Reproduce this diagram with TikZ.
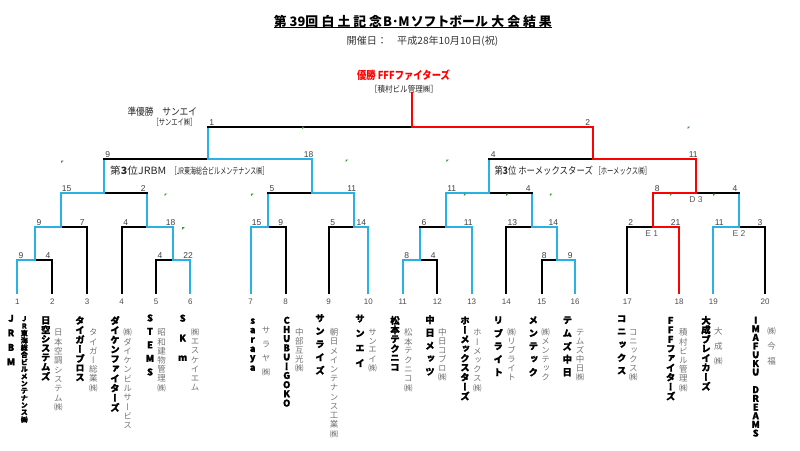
\documentclass[tikz,border=0pt]{standalone}
\usepackage{fontspec}
\usepackage{graphicx}
\setmainfont{Liberation Sans}
\newfontfamily\jp{Noto Sans CJK JP}
\newfontfamily\jv{Noto Sans CJK JP}[RawFeature=+vert]
\newfontfamily\jvh{Noto Sans CJK JP}[RawFeature=+vert, BoldFeatures={FakeBold=1.3}]
\definecolor{cyanline}{HTML}{29B1E6}
\definecolor{tick}{HTML}{2E9A2E}

\ExplSyntaxOn
\NewDocumentCommand \vstack { m m }
  {
    \vbox:n
      {
        \offinterlineskip
        \tl_map_inline:nn {#2}
          {
            \hbox_to_wd:nn { 1.3em }
              {
                \hfil
                \vbox_to_ht:nn {#1} { \vfil \hbox:n {##1} \vfil }
                \hfil
              }
          }
      }
  }
\ExplSyntaxOff

\newcommand\leafedge[3]{\draw[#3] (#1) |- (#2);}
\newcommand\upedge[4]{\draw[#3] (#1) -- (#1 |- #2); \draw[#4] (#1 |- #2) -- (#2);}

\begin{document}
\begin{tikzpicture}[x=1pt,y=-1pt,
  ln/.style={line width=2pt, line cap=rect},
  cy/.style={ln, draw=cyanline},
  rd/.style={ln, draw=red},
  bk/.style={ln, draw=black},
  scorelbl/.style={inner sep=0, text=black!75, font=\fontsize{8.5}{8.5}\selectfont},
  leafnum/.style={inner sep=0, text=black!70, font=\fontsize{8}{8}\selectfont},
  teamname/.style={anchor=north, inner sep=0, text=black, font=\jvh\bfseries\fontsize{9.3}{9.3}\selectfont},
  compname/.style={anchor=north, inner sep=0, text=black!55, font=\jv\fontsize{8.5}{8.5}\selectfont},
  hlabel/.style={inner sep=0, text=black!85},
  tickmark/.style={fill=tick}
]
\useasboundingbox (0,0) rectangle (800,450);

% ---------- titles ----------
\node[hlabel, text=black] (title) at (412.85,21.2) {\resizebox{278pt}{\height}{\jp\bfseries\fontsize{13}{13}\selectfont 第\hspace{3pt}39回\hspace{3.5pt}白\hspace{3pt}土\hspace{3pt}記\hspace{3pt}念\hspace{1pt}B･M\hspace{1pt}ソフトボール\hspace{3.5pt}大\hspace{3pt}会\hspace{3pt}結\hspace{3pt}果}};
\draw[line width=0.9pt] (274,27.8) -- (551.7,27.8);
\node[hlabel, text=black!80] (date) at (422.5,41.7) {\resizebox{151.6pt}{\height}{\jp\fontsize{10}{10}\selectfont 開催日：　平成28年10月10日(祝)}};

\node[hlabel, text=red] (champ) at (403.5,75.7) {\resizebox{93pt}{\height}{\jp\bfseries\fontsize{11}{11}\selectfont 優勝 FFFファイターズ}};
\node[hlabel] (champco) at (404,89.3) {\resizebox{68pt}{\height}{\jp\fontsize{8.5}{8.5}\selectfont［積村ビル管理㈱］}};
\node[hlabel, anchor=east] (runner) at (197.3,111.7) {\resizebox{69.6pt}{\height}{\jp\fontsize{10}{10}\selectfont 準優勝　サンエイ}};
\node[hlabel, anchor=east] (runnerco) at (196.7,122.3) {\resizebox{44pt}{\height}{\jp\fontsize{8.5}{8.5}\selectfont［サンエイ㈱］}};
\node[hlabel, anchor=west] (thirdA) at (110,170.7) {\resizebox{56pt}{\height}{\jp\fontsize{10}{10}\selectfont 第{\bfseries 3}位JRBM}};
\node[hlabel, anchor=west] (thirdAco) at (170.7,170.7) {\resizebox{97.6pt}{\height}{\jp\fontsize{9}{9}\selectfont［JR東海総合ビルメンテナンス㈱］}};
\node[hlabel, anchor=west] (thirdB) at (494.3,170.7) {\resizebox{98.4pt}{\height}{\jp\fontsize{10}{10}\selectfont 第{\bfseries 3}位 ホーメックスターズ}};
\node[hlabel, anchor=west] (thirdBco) at (594.3,170.7) {\resizebox{56.4pt}{\height}{\jp\fontsize{9}{9}\selectfont［ホーメックス㈱］}};

% ---------- coordinates ----------
\foreach \i/\x in {1/17.3,2/52.3,3/87,4/121.7,5/156,6/190.3,7/250.7,8/285.7,9/328.7,10/368.3,
                   11/402.7,12/437.3,13/471.7,14/506.3,15/541.7,16/575,17/627.3,18/679,19/713.3,20/765}{
  \coordinate (l\i) at (\x,293);
  \node[leafnum] (n\i) at (\x,301.7) {\i};
}
\coordinate (a1) at (35,260.3);
\coordinate (a2) at (60.7,226.7);
\coordinate (a3) at (173.2,260.3);
\coordinate (a4) at (147,226.7);
\coordinate (A)  at (104.3,193.3);
\coordinate (b1) at (268.3,226.7);
\coordinate (b2) at (354.3,226.7);
\coordinate (B)  at (311.7,193.3);
\coordinate (c1) at (420,260.3);
\coordinate (c2) at (445.7,226.7);
\coordinate (c3) at (557.3,260.3);
\coordinate (c4) at (532.3,226.7);
\coordinate (C)  at (489,193.3);
\coordinate (d1) at (653.3,226.7);
\coordinate (d2) at (739,226.7);
\coordinate (D)  at (696,193.3);
\coordinate (S1) at (207.7,159.3);
\coordinate (S2) at (592.7,159.3);
\coordinate (F)  at (411.7,126.7);
\coordinate (top) at (411.7,93);

% ---------- bracket lines ----------
% group A
\leafedge{l1}{a1}{cy} \leafedge{l2}{a1}{bk}
\upedge{a1}{a2}{cy}{cy} \leafedge{l3}{a2}{bk}
\leafedge{l5}{a3}{bk} \leafedge{l6}{a3}{cy}
\leafedge{l4}{a4}{bk} \upedge{a3}{a4}{cy}{cy}
\upedge{a2}{A}{cy}{cy} \upedge{a4}{A}{cy}{bk}
% group B
\leafedge{l7}{b1}{cy} \leafedge{l8}{b1}{bk}
\leafedge{l9}{b2}{bk} \leafedge{l10}{b2}{cy}
\upedge{b1}{B}{cy}{bk} \upedge{b2}{B}{cy}{cy}
% group C
\leafedge{l11}{c1}{cy} \leafedge{l12}{c1}{bk}
\upedge{c1}{c2}{cy}{bk} \leafedge{l13}{c2}{cy}
\leafedge{l15}{c3}{bk} \leafedge{l16}{c3}{cy}
\leafedge{l14}{c4}{bk} \upedge{c3}{c4}{cy}{cy}
\upedge{c2}{C}{cy}{cy} \upedge{c4}{C}{cy}{bk}
% group D
\leafedge{l17}{d1}{bk} \leafedge{l18}{d1}{rd}
\leafedge{l19}{d2}{cy} \leafedge{l20}{d2}{bk}
\upedge{d1}{D}{rd}{rd} \upedge{d2}{D}{cy}{bk}
% semis and final
\upedge{A}{S1}{cy}{bk} \upedge{B}{S1}{cy}{cy}
\upedge{C}{S2}{cy}{bk} \upedge{D}{S2}{rd}{rd}
\upedge{S1}{F}{cy}{bk} \upedge{S2}{F}{rd}{rd}
\draw[rd] (F) -- (top);

% ---------- scores ----------
\foreach \k/\x/\y/\t in {
  1/21/255.8/9, 2/48/255.8/4, 3/160/255.8/4, 4/188/255.8/22, 5/406.7/255.8/8, 6/433.3/255.8/4, 7/544.3/255.8/8, 8/570.3/255.8/9,
  9/39/222.2/9, 10/82.3/222.2/7, 11/125.7/222.2/4, 12/170.7/222.2/18, 13/256.7/222.2/15, 14/280.7/222.2/9, 15/332.7/222.2/5, 16/361.3/222.2/14,
  17/424/222.2/6, 18/468.3/222.2/11, 19/512.3/222.2/13, 20/553.3/222.2/14, 21/630.7/222.2/2, 22/675.7/222.2/21, 23/719.3/222.2/11, 24/760/222.2/3,
  25/66.7/188.8/15, 26/143.3/188.8/2, 27/272/188.8/5, 28/351.7/188.8/11, 29/451.7/188.8/11, 30/528.3/188.8/4, 31/657.3/188.8/8, 32/735/188.8/4,
  33/107.7/154.8/9, 34/308.7/154.8/18, 35/493.3/154.8/4, 36/693.3/154.8/11,
  37/211.7/122.2/1, 38/587.7/122.2/2}{
  \node[scorelbl] (sc\k) at (\x,\y) {\t};
}
\node[scorelbl, text=black!65] (lblD3) at (696,200) {D 3};
\node[scorelbl, text=black!65] (lblE1) at (651.7,233.3) {E 1};
\node[scorelbl, text=black!65] (lblE2) at (739,233.3) {E 2};

% ---------- green error ticks ----------
\foreach \x/\y in {62.3/161.7, 303.3/127.7, 346.7/160.7, 447.5/160.7, 688.7/127.7, 165.7/194.7, 183.3/228.3,
                   252.3/194.7, 465/194.7, 507.3/194.7, 551/194.7, 671/194.7, 714.3/194.7}{
  \fill[tickmark] (\x-1.2,\y-1.2) -- ++(2.6,0) -- ++(-2.6,2.6) -- cycle;
}

% ---------- team names (vertical) ----------
\node[teamname] (t1) at (11,311) {\vstack{14.5pt}{JRBM}};
\node[anchor=north, inner sep=0, font=\jvh\bfseries\fontsize{7}{7}\selectfont] (c1n) at (24.3,315) {\vstack{7.2pt}{JR東海総合ビルメンテナンス㈱}};
\node[teamname] (t2) at (45.7,315.5) {\vstack{9.3pt}{日空システムズ}};
\node[teamname] (t3) at (80,315.5) {\vstack{9.5pt}{タイガーブロス}};
\node[teamname] (t4) at (115,315.5) {\vstack{9.65pt}{ダイケンファイターズ}};
\node[teamname] (t5) at (150,311) {\vstack{13.5pt}{STEMS}};
\node[teamname] (t6) at (182.7,308) {\vstack{20pt}{SKm}};
\node[teamname] (t7) at (252.7,316.3) {\vstack{9.4pt}{saraya}};
\node[teamname] (t8) at (286.7,315.5) {\vstack{9.2pt}{CHUBUーGOKO}};
\node[teamname] (t9) at (320,311.5) {\vstack{13pt}{サンライズ}};
\node[teamname] (t10) at (360,311) {\vstack{14.8pt}{サンエイ}};
\node[teamname] (t11) at (395,315.5) {\vstack{9.4pt}{松本テクニコ}};
\node[teamname] (t12) at (430,313) {\vstack{13pt}{中日メッツ}};
\node[teamname] (t13) at (465,315.5) {\vstack{9.45pt}{ホーメックスターズ}};
\node[teamname] (t14) at (498.3,313.5) {\vstack{13pt}{リブライト}};
\node[teamname] (t15) at (533.3,313.5) {\vstack{13pt}{メンテック}};
\node[teamname] (t16) at (567.3,313.5) {\vstack{13pt}{テムズ中日}};
\node[teamname] (t17) at (621.7,312) {\vstack{13pt}{コニックス}};
\node[teamname] (t18) at (670.7,315.5) {\vstack{9.45pt}{FFFファイターズ}};
\node[teamname] (t19) at (706,315.5) {\vstack{9.4pt}{大成ブレイカーズ}};
\node[teamname] (t20) at (755.7,315.5) {\vstack{8.7pt}{IMAFUKU{}DREAMS}};

% ---------- company names (vertical) ----------
\node[compname] (c2n) at (58.3,327.8) {\vstack{9.35pt}{日本空調システム㈱}};
\node[compname] (c3n) at (93.3,327.8) {\vstack{9.2pt}{タイガー総業㈱}};
\node[compname] (c4n) at (127.7,327.8) {\vstack{9.3pt}{㈱ダイケンビルサービス}};
\node[compname] (c5n) at (161.7,327.8) {\vstack{9.2pt}{昭和建物管理㈱}};
\node[compname] (c6n) at (195,327.8) {\vstack{9.2pt}{㈱エスケイエム}};
\node[compname] (c7n) at (266,323.3) {\vstack{13.9pt}{サラヤ㈱}};
\node[compname] (c8n) at (299.3,327.8) {\vstack{8.85pt}{中部互光㈱}};
\node[compname] (c9n) at (334,327.8) {\vstack{9.2pt}{朝日メインテナンス工業㈱}};
\node[compname] (c10n) at (372.7,327.8) {\vstack{8.85pt}{サンエイ㈱}};
\node[compname] (c11n) at (408.3,327.8) {\vstack{9.2pt}{松本テクニコ㈱}};
\node[compname] (c12n) at (442.3,327.8) {\vstack{9pt}{中日コブロ㈱}};
\node[compname] (c13n) at (477.3,327.8) {\vstack{9.2pt}{ホーメックス㈱}};
\node[compname] (c14n) at (511.7,327.8) {\vstack{9pt}{㈱リブライト}};
\node[compname] (c15n) at (545.7,327.8) {\vstack{9pt}{㈱メンテック}};
\node[compname] (c16n) at (580,327.8) {\vstack{9pt}{テムズ中日㈱}};
\node[compname] (c17n) at (633.3,327.8) {\vstack{9pt}{コニックス㈱}};
\node[compname] (c18n) at (683.3,327.8) {\vstack{9.2pt}{積村ビル管理㈱}};
\node[compname] (c19n) at (718.3,324) {\vstack{15pt}{大成㈱}};
\node[compname] (c20n) at (771.7,324) {\vstack{15pt}{㈱今福}};
\end{tikzpicture}
\end{document}
